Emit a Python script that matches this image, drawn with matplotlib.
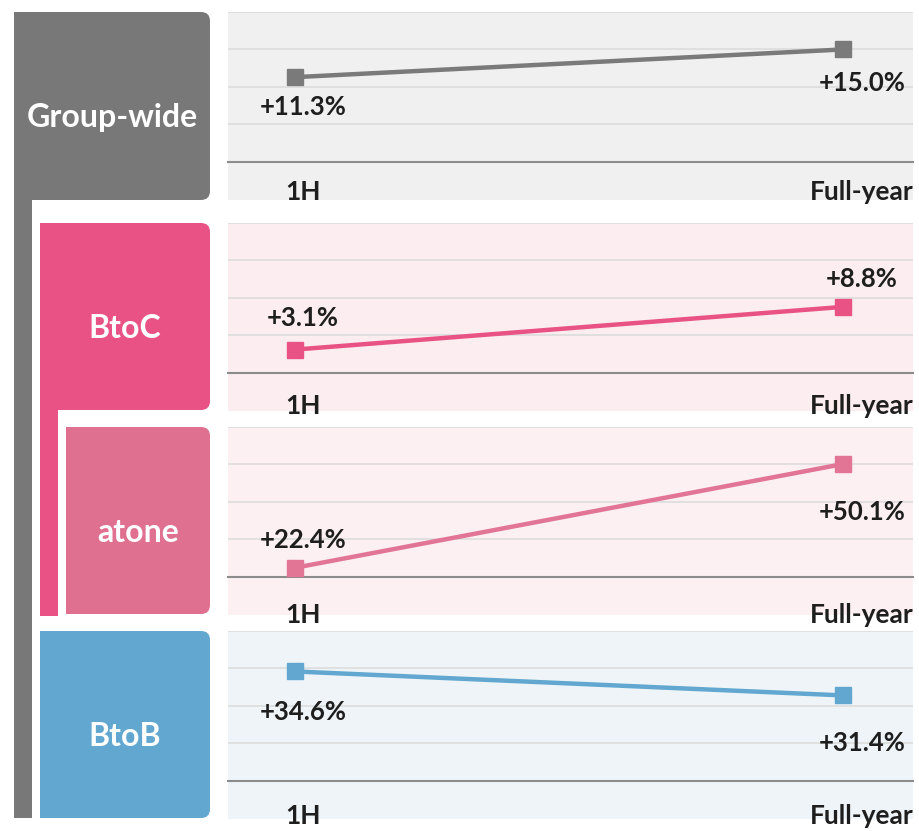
import matplotlib.pyplot as plt
from matplotlib.patches import FancyBboxPatch, Rectangle
from matplotlib.transforms import ScaledTranslation

# data: YoY growth by segment
segments = ['Group-wide', 'BtoC', 'atone', 'BtoB']
periods = ['1H', 'Full-year']
growth_1h = [11.3, 3.1, 22.4, 34.6]
growth_fy = [15.0, 8.8, 50.1, 31.4]
axis_base = [0, 0, 20, 20]   # value where each panel's axis line sits
axis_step = [5, 5, 10, 5]    # gridline spacing per panel

# styling
box_colors = ['#787878', '#e85284', '#e07090', '#62a7cf']
line_colors = ['#7a7a7a', '#e85284', '#e27496', '#62a7cf']
bg_colors = ['#f0f0f0', '#fcedf1', '#fcf0f3', '#eef4f8']
# value label offsets in pixels (1H, Full-year), positive = up
label_dy = [(-30, -34), (32, 28), (28, -48), (-41, -48)]
tick_pad = [13, 15, 19, 17]

plt.rcParams['font.family'] = ['Lato', 'DejaVu Sans']

W, H = 919, 831
fig = plt.figure(figsize=(W / 100, H / 100), dpi=100)

# left-hand tree of segment boxes, drawn in pixel coords
bg = fig.add_axes([0, 0, 1, 1])
bg.set_xlim(0, W)
bg.set_ylim(H, 0)
bg.axis('off')

boxes = [(14, 210, 12, 200), (40, 210, 223, 410), (66, 210, 427, 614), (40, 210, 631, 818)]
bars = [(14, 32, 200, 818, box_colors[0]), (40, 58, 410, 616, box_colors[1])]

for (x0, x1, y0, y1), name, c in zip(boxes, segments, box_colors):
    bg.add_patch(FancyBboxPatch((x0, y0), x1 - x0, y1 - y0,
                                boxstyle='round,pad=0,rounding_size=9', fc=c, ec='none'))
    bg.add_patch(Rectangle((x0, y0), 20, y1 - y0, fc=c, ec='none'))
    bg.text((x0 + x1) / 2, (y0 + y1) / 2 + 21, name, color='white', fontsize=23,
            fontweight='bold', ha='center', va='baseline')

for x0, x1, y0, y1, c in bars:
    bg.add_patch(Rectangle((x0, y0), x1 - x0, y1 - y0, fc=c, ec='none'))

# right-hand line panels
panel_tops = [12, 223, 427, 631]
panel_h = 188
left, right = 228, 913

for i, top in enumerate(panel_tops):
    ax = fig.add_axes([left / W, 1 - (top + panel_h) / H, (right - left) / W, panel_h / H])
    ax.set_facecolor(bg_colors[i])
    base, step = axis_base[i], axis_step[i]
    ax.set_ylim(base - 1.02 * step, base + 4 * step)
    ax.set_xlim(-0.122, 1.128)

    for k in range(1, 5):
        ax.axhline(base + k * step, color='#dcdcdc', lw=1.2, zorder=1)

    for s in ['top', 'left', 'right']:
        ax.spines[s].set_visible(False)
    ax.spines['bottom'].set_position(('data', base))
    ax.spines['bottom'].set_color('#8c8c8c')
    ax.spines['bottom'].set_linewidth(1.5)

    vals = [growth_1h[i], growth_fy[i]]
    ax.plot([0, 1], vals, color=line_colors[i], lw=3.2, marker='s', ms=11.5, zorder=3)

    for x, v, dy, dx in zip([0, 1], vals, label_dy[i], [8, 19]):
        ax.annotate(f'+{v:.1f}%', (x, v), xytext=(dx, dy), textcoords='offset pixels',
                    ha='center', va='center', fontsize=18.5, fontweight='bold', color='#1e1e1e')

    ax.set_yticks([])
    ax.set_xticks([0, 1])
    ax.set_xticklabels(periods, fontsize=19, fontweight='bold', color='#1e1e1e')
    ax.tick_params(axis='x', length=0, pad=tick_pad[i])
    for lab, dx in zip(ax.get_xticklabels(), [8, 19]):
        lab.set_transform(lab.get_transform() + ScaledTranslation(dx / 100, 0, fig.dpi_scale_trans))

fig.savefig('out.png', dpi=100)
